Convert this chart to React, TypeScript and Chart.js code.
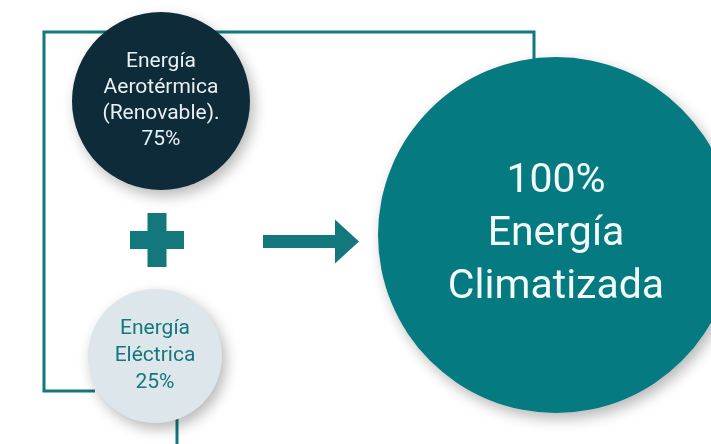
import { useEffect, useRef } from "react";
import { Chart, registerables } from "chart.js";

Chart.register(...registerables);

// ---- data ----
const categories = ["Energía Aerotérmica (Renovable)", "Energía Eléctrica", "Energía Climatizada"];
const percentages = [75, 25, 100];
const labelLines = [
  ["Energía", "Aerotérmica", "(Renovable)."],
  ["Energía", "Eléctrica"],
  ["Energía", "Climatizada"],
];

// ---- layout (pixel-space data units) ----
const bubbleX = [161, 155, 556];
const bubbleY = [101, 356, 235];
const bubbleR = [89, 67, 178];
const bubbleColors = ["#0e2b39", "#dde6ea", "#057a80"];
const textColors = ["#e9f0f2", "#15777d", "#f4fbfb"];
const fontSizes = [21, 21, 41];
const fontWeights = [400, 400, 400];
const lineGaps = [26, 27, 53];
const connectorA = [[95, 391], [44, 391], [44, 32], [534, 32], [534, 62]];
const connectorB = [[177, 418], [177, 444]];
const TEAL = "#13787c";

const W = 711;
const H = 444;

const decor = {
  id: "decor",
  beforeDatasetsDraw(chart: any) {
    const { ctx, scales } = chart;
    const px = (v: number) => scales.x.getPixelForValue(v);
    const py = (v: number) => scales.y.getPixelForValue(v);
    ctx.save();
    ctx.strokeStyle = TEAL;
    ctx.lineWidth = 3;
    ctx.lineJoin = "miter";
    for (const path of [connectorA, connectorB]) {
      ctx.beginPath();
      path.forEach(([x, y], i) => (i === 0 ? ctx.moveTo(px(x), py(y)) : ctx.lineTo(px(x), py(y))));
      ctx.stroke();
    }
    // plus sign
    ctx.fillStyle = TEAL;
    const cx = px(157), cy = py(240);
    ctx.fillRect(cx - 27, cy - 9, 54, 18);
    ctx.fillRect(cx - 9.5, cy - 27, 19, 54);
    // arrow
    const ay = py(241.5);
    ctx.fillRect(px(263), ay - 6.5, px(337) - px(263), 13);
    ctx.beginPath();
    ctx.moveTo(px(335), ay - 22);
    ctx.lineTo(px(359), ay);
    ctx.lineTo(px(335), ay + 22);
    ctx.closePath();
    ctx.fill();
    ctx.restore();

    ctx.save();
    ctx.shadowColor = "rgba(0,0,0,0.28)";
    ctx.shadowBlur = 14;
    ctx.shadowOffsetX = 4;
    ctx.shadowOffsetY = 6;
  },
  afterDatasetsDraw(chart: any) {
    const { ctx } = chart;
    ctx.restore();
    const meta = chart.getDatasetMeta(0);
    ctx.save();
    ctx.textAlign = "center";
    ctx.textBaseline = "middle";
    meta.data.forEach((el: any, i: number) => {
      const lines =
        i === 2
          ? [`${percentages[i]}%`, ...labelLines[i]]
          : [...labelLines[i], `${percentages[i]}%`];
      ctx.fillStyle = textColors[i];
      ctx.font = `${fontWeights[i]} ${fontSizes[i]}px Roboto, "Noto Sans", sans-serif`;
      const gap = lineGaps[i];
      const start = el.y - ((lines.length - 1) * gap) / 2;
      lines.forEach((t, k) => ctx.fillText(t, el.x, start + k * gap));
    });
    ctx.restore();
  },
};

export default function App() {
  const ref = useRef<HTMLCanvasElement>(null);
  useEffect(() => {
    document.body.style.margin = "0";
    const chart = new Chart(ref.current!, {
      type: "bubble",
      data: {
        labels: categories,
        datasets: [
          {
            label: "Energía",
            data: bubbleX.map((x, i) => ({ x, y: bubbleY[i], r: bubbleR[i] })),
            backgroundColor: bubbleColors,
            borderWidth: 0,
            hoverRadius: 0,
            clip: false,
          },
        ],
      },
      options: {
        responsive: false,
        animation: false,
        devicePixelRatio: 1,
        events: [],
        layout: { padding: 0, autoPadding: false },
        scales: {
          x: { type: "linear", min: 0, max: W, display: false },
          y: { type: "linear", min: 0, max: H, reverse: true, display: false },
        },
        plugins: { legend: { display: false }, tooltip: { enabled: false } },
      },
      plugins: [decor],
    } as any);
    return () => chart.destroy();
  }, []);
  return (
    <div style={{ position: "absolute", left: 0, top: 0, width: W, height: H, background: "#fff" }}>
      <canvas ref={ref} width={W} height={H} style={{ display: "block" }} />
    </div>
  );
}
